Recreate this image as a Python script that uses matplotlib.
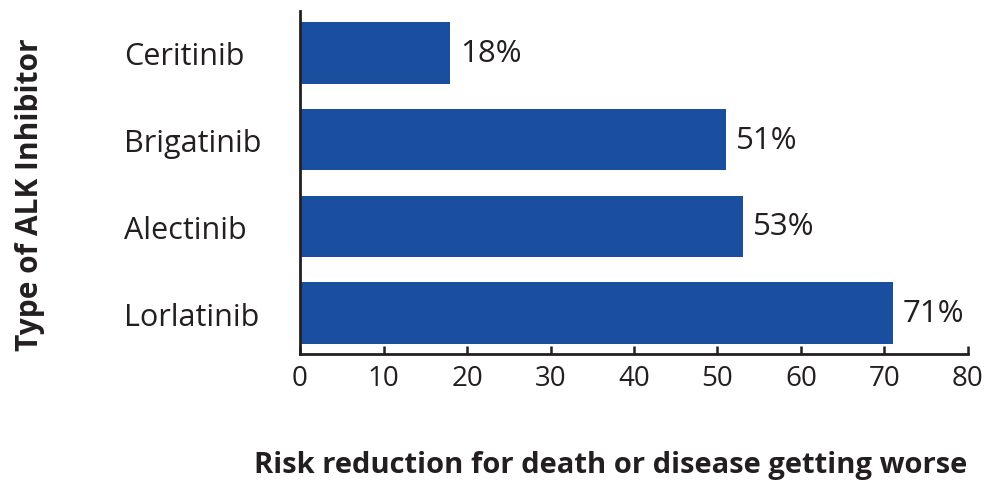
import matplotlib.pyplot as plt

inhibitors = ["Lorlatinib", "Alectinib", "Brigatinib", "Ceritinib"]
reduction = [71, 53, 51, 18]
xticks = [0, 10, 20, 30, 40, 50, 60, 70, 80]

plt.rcParams['font.family'] = ['Open Sans', 'DejaVu Sans']
ink = '#231f20'

fig = plt.figure(figsize=(9.86, 4.85), dpi=100)
ax = fig.add_axes([0.3043, 0.268, 0.6774, 0.707])

ax.barh(inhibitors, reduction, height=0.71, color='#1a4e9f')
for i, v in enumerate(reduction):
    ax.text(v + 1.2, i, f"{v}%", va='center', ha='left', fontsize=22.5, color=ink)

ax.set_xlim(0, 80)
ax.set_ylim(-0.47, 3.48)
ax.set_xticks(xticks)
ax.tick_params(axis='x', direction='in', length=5.5, width=1.8, color=ink,
               labelsize=20, labelcolor=ink, pad=7)
ax.tick_params(axis='y', length=0, labelsize=22, labelcolor=ink, pad=126.7)
for lbl in ax.get_yticklabels():
    lbl.set_horizontalalignment('left')

for side in ['top', 'right']:
    ax.spines[side].set_visible(False)
for side in ['left', 'bottom']:
    ax.spines[side].set_color(ink)
    ax.spines[side].set_linewidth(2)

fig.text(0.03, 0.598, "Type of ALK Inhibitor", rotation=90, ha='center', va='center',
         fontsize=21.5, fontweight='bold', color=ink)
fig.text(0.619, 0.041, "Risk reduction for death or disease getting worse", ha='center',
         va='center', fontsize=21, fontweight='bold', color=ink)

fig.savefig("out.png", dpi=100)
